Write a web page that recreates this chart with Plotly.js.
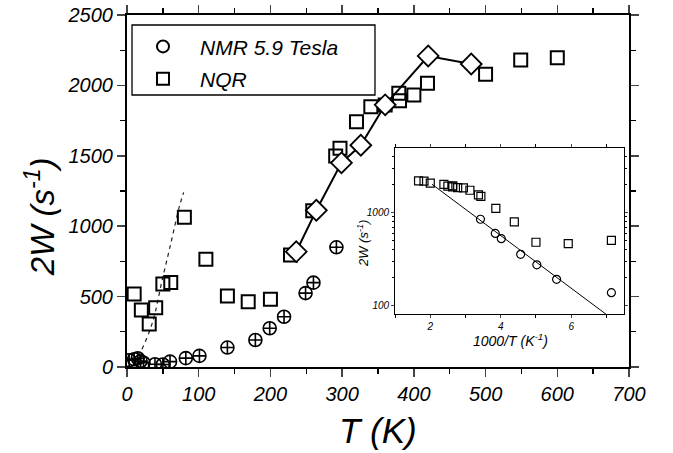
<!DOCTYPE html>
<html>
<head>
<meta charset="utf-8">
<script src="https://cdn.plot.ly/plotly-3.0.1.min.js"></script>
<style>html,body{margin:0;padding:0;background:#fff;}#chart{width:673px;height:453px;}</style>
</head>
<body>
<div id="chart"></div>
<script>
// NMR 5.9 Tesla (circles)
var nmrT = [3, 10, 15, 19, 23, 39, 50, 60, 82, 101, 140, 179, 199, 219, 249, 260, 292];
var nmrW = [48, 55, 62, 42, 30, 20, 18, 38, 63, 79, 138, 192, 275, 357, 525, 599, 850];
// NQR (squares)
var nqrT = [10, 20, 31, 40, 50, 61, 80, 110, 140, 169, 200, 228, 259, 291, 297, 320, 340, 360, 379, 380, 400, 419, 500, 549, 600];
var nqrW = [518, 405, 305, 421, 590, 601, 1063, 765, 504, 464, 481, 795, 1110, 1499, 1553, 1742, 1849, 1861, 1944, 1891, 1932, 2015, 2079, 2180, 2197];
// diamonds with solid line
var diaT = [236, 264, 299, 326, 360, 420, 480];
var diaW = [819, 1113, 1450, 1575, 1862, 2209, 2152];
// dashed curve at low T
var dashT = [15, 19, 32, 39, 48, 60, 73, 79];
var dashW = [80, 109, 263, 381, 594, 854, 1139, 1240];
// inset Arrhenius fit line (1000/T, 2W)
var fitX = [2.05, 7.15];
var fitW = [2018, 73];
var insetMinT = 140;

function invT(arrT, arrW) {
  var x = [], y = [];
  for (var i = 0; i < arrT.length; i++) {
    if (arrT[i] >= insetMinT) { x.push(1000 / arrT[i]); y.push(arrW[i]); }
  }
  return {x: x, y: y};
}
var inNmr = invT(nmrT, nmrW);
var inNqr = invT(nqrT, nqrW);

var FONT = 'Liberation Sans, Arial, sans-serif';

var traces = [
  {x: dashT, y: dashW, mode: 'lines', line: {color: '#222', width: 1.2, dash: '4px,4px', shape: 'spline'}, showlegend: false, hoverinfo: 'skip'},
  {x: nmrT, y: nmrW, mode: 'markers', marker: {symbol: 'circle-cross-open', size: 13, color: '#000', line: {width: 1.6, color: '#000'}}, showlegend: false},
  {x: nqrT, y: nqrW, mode: 'markers', marker: {symbol: 'square-open', size: 13, color: '#000', line: {width: 2, color: '#000'}}, showlegend: false},
  {x: diaT, y: diaW, mode: 'lines+markers', line: {color: '#000', width: 2}, marker: {symbol: 'diamond', size: 16, color: '#fff', line: {width: 1.8, color: '#000'}}, showlegend: false},
  // inset
  {x: fitX, y: fitW, xaxis: 'x2', yaxis: 'y2', mode: 'lines', line: {color: '#000', width: 1}, showlegend: false},
  {x: inNmr.x, y: inNmr.y, xaxis: 'x2', yaxis: 'y2', mode: 'markers', name: 'NMR 5.9 Tesla', legendgroup: 'a',
   marker: {symbol: 'circle-open', size: 8, color: '#000', line: {width: 1.2, color: '#000'}}},
  {x: inNqr.x, y: inNqr.y, xaxis: 'x2', yaxis: 'y2', mode: 'markers', name: 'NQR', legendgroup: 'b',
   marker: {symbol: 'square-open', size: 8, color: '#000', line: {width: 1.2, color: '#000'}}}
];

var layout = {
  width: 673, height: 453,
  margin: {l: 127, r: 44, t: 15, b: 86},
  paper_bgcolor: '#fff', plot_bgcolor: '#fff',
  font: {family: FONT, color: '#000'},
  showlegend: true,
  legend: {x: -0.002, xanchor: 'left', y: 0.968, yanchor: 'top', bgcolor: 'rgba(0,0,0,0)', borderwidth: 0,
           itemwidth: 64, itemsizing: 'constant', tracegroupgap: 2,
           font: {family: FONT, size: 21, style: 'italic', color: '#000'}},
  xaxis: {range: [0, 700], tickvals: [0,100,200,300,400,500,600,700], ticks: 'outside', ticklen: 8, tickwidth: 1.5,
          showline: true, linewidth: 2, linecolor: '#000', mirror: 'ticks', showgrid: false, zeroline: false,
          minor: {dtick: 50, tick0: 0, ticks: 'outside', ticklen: 5, tickwidth: 1.3, tickcolor: '#000', showgrid: false},
          tickfont: {family: FONT, size: 20, style: 'italic', color: '#000'}, domain: [0, 1]},
  yaxis: {range: [0, 2500], tickvals: [0,500,1000,1500,2000,2500], ticks: 'outside', ticklen: 8, tickwidth: 1.5,
          showline: true, linewidth: 2, linecolor: '#000', mirror: 'ticks', showgrid: false, zeroline: false,
          minor: {dtick: 250, tick0: 0, ticks: 'outside', ticklen: 5, tickwidth: 1.3, tickcolor: '#000', showgrid: false},
          tickfont: {family: FONT, size: 20, style: 'italic', color: '#000'}, domain: [0, 1]},
  xaxis2: {domain: [0.534, 0.990], anchor: 'y2', range: [1, 7.5], tickvals: [2, 4, 6], ticks: 'outside', ticklen: 3, tickwidth: 1,
           showline: true, linewidth: 1, linecolor: '#000', mirror: 'ticks', showgrid: false, zeroline: false,
           minor: {tickvals: [1, 3, 5, 7], ticks: 'outside', ticklen: 3, tickwidth: 1, tickcolor: '#000', showgrid: false},
           tickfont: {family: FONT, size: 10, style: 'italic', color: '#000'}},
  yaxis2: {domain: [0.1497, 0.6213], anchor: 'x2', type: 'log', range: [1.9075, 3.692], tickvals: [100, 1000], ticktext: ['100', '1000'],
           ticks: 'outside', ticklen: 3, tickwidth: 1,
           showline: true, linewidth: 1, linecolor: '#000', mirror: 'ticks', showgrid: false, zeroline: false,
           minor: {tickvals: [200,300,400,500,600,700,800,900,2000,3000,4000], ticks: 'outside', ticklen: 2, tickwidth: 1, tickcolor: '#000', showgrid: false},
           tickfont: {family: FONT, size: 10, style: 'italic', color: '#000'}},
  shapes: [
    {type: 'rect', xref: 'paper', yref: 'paper', x0: 0.010, x1: 0.494, y0: 0.7727, y1: 0.9716, line: {color: '#000', width: 1.3}, fillcolor: 'rgba(0,0,0,0)'}
  ],
  annotations: [
    {text: '2W (s<sup>-1</sup>)', xref: 'paper', yref: 'paper', x: -0.173, y: 0.426, xanchor: 'center', yanchor: 'middle',
     textangle: -90, showarrow: false, font: {family: FONT, size: 33, style: 'italic', color: '#000'}},
    {text: 'T (K)', xref: 'paper', yref: 'paper', x: 0.5, y: -0.18, xanchor: 'center', yanchor: 'middle',
     showarrow: false, font: {family: FONT, size: 35, style: 'italic', color: '#000'}},
    {text: '1000/T (K<sup>-1</sup>)', xref: 'paper', yref: 'paper', x: 0.763, y: 0.0767, xanchor: 'center', yanchor: 'middle',
     showarrow: false, font: {family: FONT, size: 14, style: 'italic', color: '#000'}},
    {text: '2W (s<sup>-1</sup>)', xref: 'paper', yref: 'paper', x: 0.470, y: 0.352, xanchor: 'center', yanchor: 'middle',
     textangle: -90, showarrow: false, font: {family: FONT, size: 13, style: 'italic', color: '#000'}}
  ]
};

Plotly.newPlot('chart', traces, layout, {displayModeBar: false, staticPlot: true});
</script>
</body>
</html>
